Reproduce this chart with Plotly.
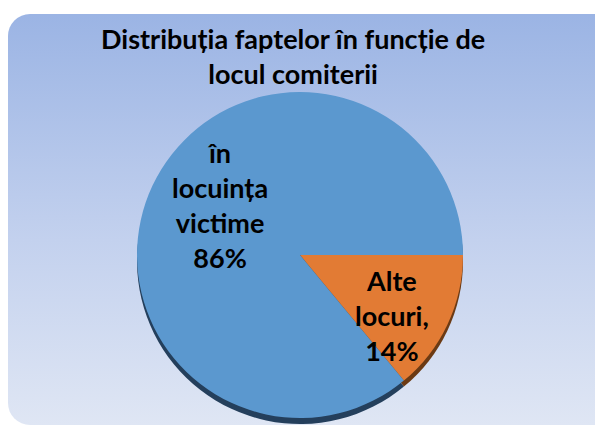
import base64
import plotly.graph_objects as go

# data
labels = ["Alte locuri", "în locuința victime"]
values = [14, 86]
label_text = ["Alte<br>locuri,<br>14%", "în<br>locuința<br>victime<br>86%"]
title_text = "Distribuția faptelor în funcție de<br>locul comiterii"

slice_colors = ["#e27b34", "#5b98cf"]
side_colors = ["#6b3a14", "#243f5c"]

W, H = 595, 426

# rounded panel with vertical gradient, as an svg background
svg = f'''<svg xmlns="http://www.w3.org/2000/svg" width="{W}" height="{H}" viewBox="0 0 {W} {H}">
<defs><linearGradient id="g" x1="0" y1="0" x2="0" y2="1">
<stop offset="0" stop-color="#9bb4e4"/><stop offset="0.55" stop-color="#c3d1ee"/>
<stop offset="1" stop-color="#dfe6f4"/></linearGradient></defs>
<rect x="8" y="14" width="610" height="411" rx="22" ry="22" fill="url(#g)"/>
</svg>'''
bg = "data:image/svg+xml;base64," + base64.b64encode(svg.encode("utf-8")).decode()


def px_domain(cx, cy, r):
    # pixel centre/radius -> paper domain
    return dict(x=[(cx - r) / W, (cx + r) / W],
                y=[max(0, (H - cy - r) / H), (H - cy + r) / H])


def note(text, x, y, size):
    return dict(text="<b>" + text + "</b>", x=x / W, y=1 - y / H,
                xref="paper", yref="paper", showarrow=False,
                xanchor="center", yanchor="middle",
                font=dict(size=size, family="Lato", color="black"))


fig = go.Figure()

# 3D side of the pie (shifted down)
fig.add_trace(go.Pie(
    labels=labels, values=values, sort=False,
    direction="clockwise", rotation=90,
    marker=dict(colors=side_colors, line=dict(width=0)),
    textinfo="none", hoverinfo="skip", showlegend=False,
    domain=px_domain(300, 261, 163)
))

fig.add_trace(go.Pie(
    labels=labels, values=values, sort=False,
    direction="clockwise", rotation=90,
    marker=dict(colors=slice_colors, line=dict(width=0)),
    textinfo="none", showlegend=False,
    domain=px_domain(300, 255, 163)
))

fig.update_layout(
    width=W, height=H,
    margin=dict(l=0, r=0, t=0, b=0),
    paper_bgcolor="white",
    plot_bgcolor="white",
    font=dict(family="Lato", color="black"),
    images=[dict(source=bg, xref="paper", yref="paper", x=0, y=1,
                 sizex=1, sizey=1, xanchor="left", yanchor="top",
                 sizing="stretch", layer="below")],
    annotations=[
        note(title_text, 293, 56, 27),
        note(label_text[1], 220, 205, 27),
        note(label_text[0], 392, 315, 27),
    ]
)

fig.write_html("out.html", config=dict(displayModeBar=False),
               post_script="document.body.style.margin='0';")
